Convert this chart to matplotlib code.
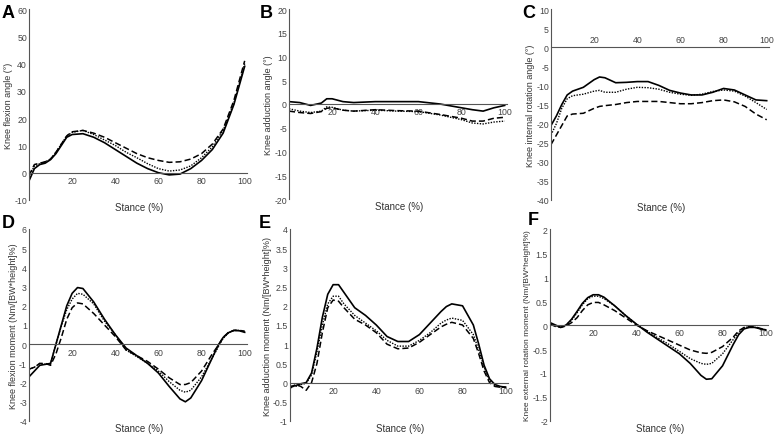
import numpy as np
import matplotlib
matplotlib.use("Agg")
import matplotlib.pyplot as plt
from matplotlib.ticker import FuncFormatter

plt.rcParams['font.family'] = ['Liberation Sans', 'DejaVu Sans']

# %% data (stance %, three groups: solid, dotted, dashed)
x_a = [0, 2.5, 5, 7.5, 10, 12.5, 15, 17.5, 20, 25, 30, 35, 40, 45, 50, 55, 60, 65, 70, 75, 80, 85, 90, 95, 100]
a_solid = [-3, 1.5, 3, 3.5, 4.8, 7, 10, 13, 14, 14.3, 13, 11, 8.5, 6, 3.5, 1.5, 0, -0.8, -0.5, 1.5, 4.5, 8.5, 14.5, 25, 39]
a_dotted = [-1.5, 2.5, 3.3, 4, 5, 7.5, 10.5, 13.5, 14.8, 15.5, 14, 12, 10, 7.5, 5.5, 3.3, 1.5, 0.6, 1, 2.5, 5.5, 9.5, 15.5, 25.5, 40]
a_dashed = [-1, 3, 3.5, 4, 5, 7.5, 10.5, 13.5, 15, 15.5, 14.5, 13, 11, 9, 7, 5.5, 4.5, 3.8, 4, 5, 7, 10.5, 16, 26.5, 41]

x_b = [0, 5, 10, 15, 17.5, 20, 25, 30, 40, 50, 60, 70, 80, 85, 90, 95, 100]
b_solid = [0.5, 0.3, -0.3, 0.2, 1.1, 1.1, 0.5, 0.3, 0.5, 0.5, 0.5, 0, -0.8, -1.2, -1.5, -0.8, -0.3]
b_dotted = [-1, -1.5, -1.8, -1.5, -0.6, -0.7, -1.3, -1.5, -1.3, -1.5, -1.6, -2.3, -3.3, -4.0, -4.2, -3.8, -3.6]
b_dashed = [-1.5, -1.8, -2.0, -1.6, -0.9, -0.8, -1.3, -1.5, -1.2, -1.4, -1.5, -2.2, -3.0, -3.6, -3.6, -3.0, -2.8]

x_c = [0, 2.5, 5, 7.5, 10, 15, 20, 22.5, 25, 30, 35, 40, 45, 50, 55, 60, 65, 70, 75, 80, 85, 90, 95, 100]
c_solid = [-20.5, -18, -15, -12.5, -11.5, -10.5, -8.5, -7.8, -8, -9.3, -9.2, -9, -9, -10, -11.3, -12, -12.5, -12.5, -11.8, -10.8, -11.2, -12.5, -13.8, -14]
c_dotted = [-23, -20, -16, -13.5, -12.7, -12.3, -11.5, -11.3, -11.8, -11.8, -11, -10.5, -10.6, -11, -11.8, -12.3, -12.6, -12.3, -11.6, -11.2, -11.5, -12.8, -14.5, -16.3]
c_dashed = [-25.5, -23, -20.5, -18, -17.5, -17.3, -16, -15.5, -15.3, -15, -14.5, -14.2, -14.2, -14.2, -14.5, -14.8, -14.8, -14.5, -14, -13.8, -14.3, -15.5, -17.5, -19]

x_m = [0, 2.5, 5, 7.5, 10, 12.5, 15, 17.5, 20, 22.5, 25, 30, 35, 40, 45, 50, 55, 60, 65, 70, 72.5, 75, 80, 85, 87.5, 90, 92.5, 95, 97.5, 100]
d_solid = [-1.7, -1.4, -1.1, -1.05, -1.0, 0.0, 1.0, 2.0, 2.65, 2.95, 2.9, 2.2, 1.3, 0.5, -0.2, -0.6, -1.0, -1.5, -2.2, -2.85, -3.0, -2.8, -1.9, -0.7, -0.1, 0.35, 0.6, 0.72, 0.7, 0.62]
d_dotted = [-1.3, -1.2, -1.0, -1.05, -1.0, 0.0, 0.95, 1.8, 2.35, 2.65, 2.6, 2.1, 1.2, 0.5, -0.3, -0.65, -1.0, -1.4, -1.95, -2.4, -2.5, -2.4, -1.7, -0.7, -0.2, 0.3, 0.6, 0.72, 0.72, 0.65]
d_dashed = [-1.3, -1.2, -1.0, -1.0, -1.1, -0.5, 0.35, 1.3, 1.9, 2.15, 2.1, 1.6, 1.0, 0.4, -0.3, -0.6, -0.9, -1.3, -1.75, -2.1, -2.1, -2.0, -1.4, -0.5, -0.1, 0.35, 0.62, 0.72, 0.72, 0.68]

e_solid = [-0.1, -0.08, -0.03, 0.0, 0.25, 0.9, 1.7, 2.3, 2.55, 2.55, 2.35, 1.95, 1.75, 1.5, 1.2, 1.07, 1.07, 1.25, 1.55, 1.85, 1.98, 2.05, 2.0, 1.5, 1.0, 0.45, 0.1, -0.05, -0.1, -0.12]
e_dotted = [-0.1, -0.1, -0.05, -0.02, 0.2, 0.8, 1.5, 2.05, 2.25, 2.25, 2.05, 1.75, 1.55, 1.35, 1.1, 0.95, 0.95, 1.1, 1.3, 1.55, 1.63, 1.68, 1.62, 1.25, 0.85, 0.4, 0.05, -0.08, -0.12, -0.12]
e_dashed = [-0.15, -0.05, -0.1, -0.2, 0.0, 0.5, 1.3, 1.95, 2.15, 2.12, 1.95, 1.65, 1.5, 1.3, 1.0, 0.88, 0.9, 1.05, 1.25, 1.45, 1.52, 1.57, 1.5, 1.15, 0.75, 0.3, 0.0, -0.1, -0.12, -0.12]

f_solid = [0.05, 0.0, -0.05, 0.0, 0.12, 0.28, 0.45, 0.57, 0.63, 0.63, 0.58, 0.4, 0.2, 0.02, -0.15, -0.3, -0.45, -0.6, -0.8, -1.05, -1.13, -1.12, -0.85, -0.4, -0.2, -0.08, -0.05, -0.05, -0.08, -0.1]
f_dotted = [0.02, -0.02, -0.05, 0.0, 0.1, 0.25, 0.42, 0.55, 0.6, 0.6, 0.55, 0.4, 0.2, 0.02, -0.13, -0.27, -0.4, -0.55, -0.7, -0.8, -0.82, -0.8, -0.6, -0.3, -0.15, -0.06, -0.03, -0.05, -0.08, -0.12]
f_dashed = [0.02, -0.03, -0.05, -0.02, 0.05, 0.15, 0.3, 0.42, 0.47, 0.47, 0.42, 0.3, 0.15, 0.0, -0.12, -0.22, -0.32, -0.42, -0.52, -0.58, -0.59, -0.57, -0.45, -0.25, -0.12, -0.05, -0.03, -0.04, -0.07, -0.1]

x_ticks = [20, 40, 60, 80, 100]

panels = [
    # letter, x, series, ylabel, ylim, ystep, ylabel size
    ('A', x_a, (a_solid, a_dotted, a_dashed), 'Knee flexion angle (°)', (-10, 60), 10, 6.5),
    ('B', x_b, (b_solid, b_dotted, b_dashed), 'Knee adduction angle (°)', (-20, 20), 5, 6.5),
    ('C', x_c, (c_solid, c_dotted, c_dashed), 'Knee internal rotation angle (°)', (-40, 10), 5, 6.5),
    ('D', x_m, (d_solid, d_dotted, d_dashed), 'Knee flexion moment (Nm/[BW*height]%)', (-4, 6), 1, 6.5),
    ('E', x_m, (e_solid, e_dotted, e_dashed), 'Knee adduction moment (Nm/[BW*height]%)', (-1, 4), 0.5, 6.5),
    ('F', x_m, (f_solid, f_dotted, f_dashed), 'Knee external rotation moment (Nm/[BW*height]%)', (-2, 2), 0.5, 6.0),
]

# axes boxes in pixels: left, top, bottom (figure 776x435)
W, H = 776, 435
boxes = [(29, 10, 201), (289, 10, 200), (551, 10, 201),
         (29, 230, 422), (290, 230, 422), (550, 230, 422)]
letter_pos = [(2, 18), (260, 18), (522, 18), (2, 228), (259, 228), (528, 225)]

styles = [dict(ls='-', lw=1.2), dict(ls=(0, (1, 1)), lw=1.0), dict(ls=(0, (4, 2)), lw=1.1)]
axis_col = '#555555'

fig = plt.figure(figsize=(W / 100, H / 100), dpi=100)

for (letter, xs, series, ylab, ylim, ystep, ysize), (l, t, b), (lx, ly) in zip(panels, boxes, letter_pos):
    ax = fig.add_axes([l / W, 1 - b / H, 220 / W, (b - t) / H])
    for ys, st in zip(series, styles):
        ax.plot(xs, ys, color='black', **st)
    ax.set_xlim(0, 102)
    ax.set_ylim(*ylim)
    ax.set_yticks(np.arange(ylim[0], ylim[1] + ystep / 2, ystep))
    ax.yaxis.set_major_formatter(FuncFormatter(lambda v, p: f'{v:g}'))
    ax.set_xticks(x_ticks)

    ax.spines['right'].set_visible(False)
    ax.spines['left'].set_color(axis_col)
    ax.spines['left'].set_linewidth(0.8)
    if letter == 'C':
        ax.spines['bottom'].set_visible(False)
        zero = ax.spines['top']
        ax.xaxis.tick_top()
    else:
        ax.spines['top'].set_visible(False)
        zero = ax.spines['bottom']
    zero.set_position(('data', 0))
    zero.set_bounds(0, 101)
    zero.set_color(axis_col)
    zero.set_linewidth(0.8)

    ax.tick_params(axis='both', length=0, labelsize=6.3, colors='#444444', pad=1.5)
    ax.tick_params(axis='x', pad=2.5)
    ax.set_ylabel(ylab, fontsize=ysize, color='#333333', labelpad=1)
    ax.text(0.5, -0.01, 'Stance (%)', transform=ax.transAxes, ha='center', va='top',
            fontsize=7, color='#333333')
    fig.text(lx / W, 1 - ly / H, letter, fontsize=13, fontweight='bold', color='black')

fig.savefig('out.png', dpi=100)
